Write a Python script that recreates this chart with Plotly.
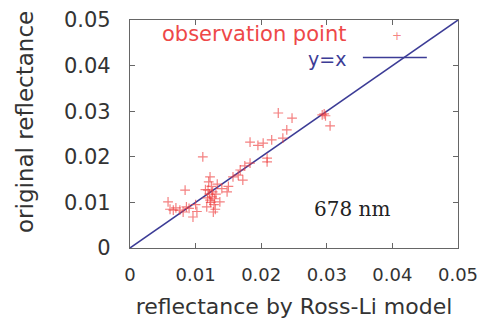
import plotly.graph_objects as go

# observed points: reflectance by Ross-Li model (x) vs original reflectance (y)
model_x = [0.0058, 0.0061, 0.0066, 0.0070, 0.0076, 0.0081, 0.0084, 0.0086, 0.0090, 0.0096,
           0.0100, 0.0102, 0.0111, 0.0115, 0.0117, 0.0118, 0.0119, 0.0120, 0.0121, 0.0122,
           0.0122, 0.0123, 0.0124, 0.0125, 0.0126, 0.0127, 0.0128, 0.0129, 0.0130, 0.0131,
           0.0133, 0.0137, 0.0140, 0.0148, 0.0150, 0.0157, 0.0165, 0.0168, 0.0172, 0.0175,
           0.0183, 0.0183, 0.0195, 0.0203, 0.0209, 0.0209, 0.0216, 0.0226, 0.0233, 0.0239,
           0.0247, 0.0293, 0.0296, 0.0298, 0.0305]
orig_y = [0.0101, 0.0085, 0.0083, 0.0088, 0.0083, 0.0079, 0.0127, 0.0090, 0.0087, 0.0068,
          0.0095, 0.0080, 0.0200, 0.0128, 0.0090, 0.0110, 0.0127, 0.0145, 0.0118, 0.0156,
          0.0105, 0.0100, 0.0135, 0.0112, 0.0123, 0.0079, 0.0095, 0.0108, 0.0085, 0.0118,
          0.0140, 0.0101, 0.0130, 0.0123, 0.0135, 0.0156, 0.0160, 0.0171, 0.0149, 0.0180,
          0.0186, 0.0232, 0.0225, 0.0230, 0.0197, 0.0189, 0.0237, 0.0296, 0.0241, 0.0259,
          0.0285, 0.0292, 0.0294, 0.0290, 0.0268]
line_xy = [0, 0.05]
tick_vals = [0, 0.01, 0.02, 0.03, 0.04, 0.05]
tick_text = ["0", "0.01", "0.02", "0.03", "0.04", "0.05"]

RED = "rgba(238,60,60,0.65)"
BLUE = "#3c3c96"

fig = go.Figure()
fig.add_trace(go.Scatter(x=line_xy, y=line_xy, mode="lines",
                         line=dict(color=BLUE, width=1.5), showlegend=False))
fig.add_trace(go.Scatter(x=model_x, y=orig_y, mode="markers",
                         marker=dict(symbol="cross-thin", size=7,
                                     line=dict(color=RED, width=1.2)),
                         showlegend=False))

axis_common = dict(range=[0, 0.05], tickvals=tick_vals, ticktext=tick_text,
                   ticks="inside", ticklen=5, tickcolor="#666", mirror="ticks",
                   showline=True, linecolor="#666", linewidth=1.2, showgrid=False,
                   zeroline=False, automargin=False)
fig.update_xaxes(**axis_common, ticklabelstandoff=10,
                 tickfont=dict(family="DejaVu Sans", size=18, color="#333"),
                 title=dict(text="reflectance by Ross-Li model", standoff=14,
                            font=dict(family="DejaVu Sans", size=22, color="#333")))
fig.update_yaxes(**axis_common, ticklabelstandoff=14,
                 tickfont=dict(family="DejaVu Sans", size=21, color="#333"))

# y-axis title
fig.add_annotation(xref="paper", yref="paper", x=-0.32, y=0.553, xanchor="center", yanchor="middle",
                   text="original reflectance", textangle=-90, showarrow=False,
                   font=dict(family="DejaVu Sans", size=23, color="#333"))

# legend (gnuplot style: text then sample)
fig.add_annotation(xref="paper", yref="paper", x=0.666, y=0.94, xanchor="right", yanchor="middle",
                   text="observation point", showarrow=False,
                   font=dict(family="DejaVu Sans", size=21, color="#ee4848"))
fig.add_annotation(xref="paper", yref="paper", x=0.815, y=0.93, xanchor="center", yanchor="middle",
                   text="+", showarrow=False, font=dict(family="DejaVu Sans", size=12, color=RED))
fig.add_annotation(xref="paper", yref="paper", x=0.666, y=0.83, xanchor="right", yanchor="middle",
                   text="y=x", showarrow=False,
                   font=dict(family="DejaVu Sans", size=19, color=BLUE))
fig.add_shape(type="line", xref="paper", yref="paper", x0=0.71, x1=0.905, y0=0.835, y1=0.835,
              line=dict(color=BLUE, width=1.5))
fig.add_annotation(xref="paper", yref="paper", x=0.677, y=0.17, xanchor="center", yanchor="middle",
                   text="678 nm", showarrow=False,
                   font=dict(family="DejaVu Serif", size=20, color="#222"))

fig.update_layout(width=493, height=320, margin=dict(l=130, r=35, t=20, b=72),
                  paper_bgcolor="white", plot_bgcolor="white")
fig.write_html("out.html")
